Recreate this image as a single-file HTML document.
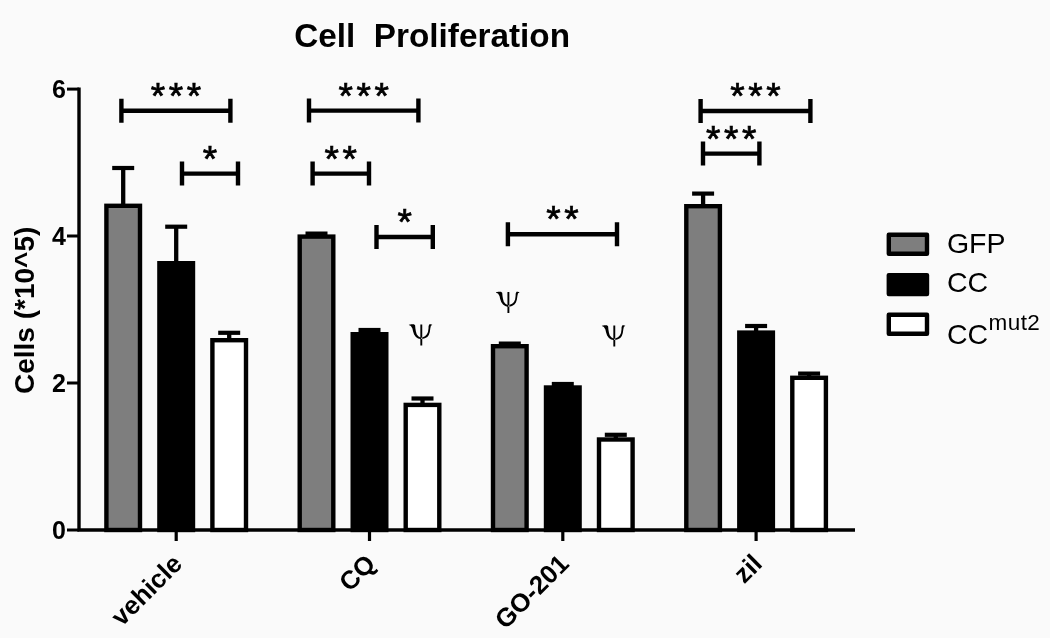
<!DOCTYPE html>
<html><head><meta charset="utf-8"><style>
html,body{margin:0;padding:0;background:#fafafa;}
svg{display:block;filter:grayscale(1)}
text{font-family:"Liberation Sans",sans-serif;fill:#000}
.b{font-weight:bold}
.r{font-weight:normal}
.ast{font-family:"Liberation Sans",sans-serif;font-weight:normal;font-size:37px;letter-spacing:3.6px;stroke:#000;stroke-width:0.7px}
</style></head><body>
<svg width="1050" height="638" viewBox="0 0 1050 638">
<rect width="1050" height="638" fill="#fafafa"/>
<line x1="123.2" y1="168.0" x2="123.2" y2="205.6" stroke="#000" stroke-width="4.3"/>
<line x1="112.2" y1="168.0" x2="134.2" y2="168.0" stroke="#000" stroke-width="4.2"/>
<rect x="106.4" y="205.8" width="33.6" height="324.2" fill="#7e7e7e" stroke="#000" stroke-width="4.4"/>
<line x1="176.2" y1="226.7" x2="176.2" y2="263.0" stroke="#000" stroke-width="4.3"/>
<line x1="165.2" y1="226.7" x2="187.2" y2="226.7" stroke="#000" stroke-width="4.2"/>
<rect x="159.4" y="263.2" width="33.6" height="266.8" fill="#000" stroke="#000" stroke-width="4.4"/>
<line x1="229.2" y1="332.8" x2="229.2" y2="340.0" stroke="#000" stroke-width="4.3"/>
<line x1="218.2" y1="332.8" x2="240.2" y2="332.8" stroke="#000" stroke-width="4.2"/>
<rect x="212.4" y="340.2" width="33.6" height="189.8" fill="#fff" stroke="#000" stroke-width="4.4"/>
<line x1="316.5" y1="233.6" x2="316.5" y2="236.4" stroke="#000" stroke-width="4.3"/>
<line x1="305.5" y1="233.6" x2="327.5" y2="233.6" stroke="#000" stroke-width="4.2"/>
<rect x="299.7" y="236.6" width="33.6" height="293.4" fill="#7e7e7e" stroke="#000" stroke-width="4.4"/>
<line x1="369.5" y1="330.0" x2="369.5" y2="334.0" stroke="#000" stroke-width="4.3"/>
<line x1="358.5" y1="330.0" x2="380.5" y2="330.0" stroke="#000" stroke-width="4.2"/>
<rect x="352.7" y="334.2" width="33.6" height="195.8" fill="#000" stroke="#000" stroke-width="4.4"/>
<line x1="422.5" y1="398.5" x2="422.5" y2="404.7" stroke="#000" stroke-width="4.3"/>
<line x1="411.5" y1="398.5" x2="433.5" y2="398.5" stroke="#000" stroke-width="4.2"/>
<rect x="405.7" y="404.9" width="33.6" height="125.1" fill="#fff" stroke="#000" stroke-width="4.4"/>
<line x1="509.8" y1="343.6" x2="509.8" y2="346.0" stroke="#000" stroke-width="4.3"/>
<line x1="498.8" y1="343.6" x2="520.8" y2="343.6" stroke="#000" stroke-width="4.2"/>
<rect x="493.0" y="346.2" width="33.6" height="183.8" fill="#7e7e7e" stroke="#000" stroke-width="4.4"/>
<line x1="562.8" y1="384.0" x2="562.8" y2="387.3" stroke="#000" stroke-width="4.3"/>
<line x1="551.8" y1="384.0" x2="573.8" y2="384.0" stroke="#000" stroke-width="4.2"/>
<rect x="546.0" y="387.5" width="33.6" height="142.5" fill="#000" stroke="#000" stroke-width="4.4"/>
<line x1="615.8" y1="434.8" x2="615.8" y2="439.3" stroke="#000" stroke-width="4.3"/>
<line x1="604.8" y1="434.8" x2="626.8" y2="434.8" stroke="#000" stroke-width="4.2"/>
<rect x="599.0" y="439.5" width="33.6" height="90.5" fill="#fff" stroke="#000" stroke-width="4.4"/>
<line x1="703.1" y1="193.6" x2="703.1" y2="206.0" stroke="#000" stroke-width="4.3"/>
<line x1="692.1" y1="193.6" x2="714.1" y2="193.6" stroke="#000" stroke-width="4.2"/>
<rect x="686.3" y="206.2" width="33.6" height="323.8" fill="#7e7e7e" stroke="#000" stroke-width="4.4"/>
<line x1="756.1" y1="326.0" x2="756.1" y2="332.4" stroke="#000" stroke-width="4.3"/>
<line x1="745.1" y1="326.0" x2="767.1" y2="326.0" stroke="#000" stroke-width="4.2"/>
<rect x="739.3" y="332.6" width="33.6" height="197.4" fill="#000" stroke="#000" stroke-width="4.4"/>
<line x1="809.1" y1="373.6" x2="809.1" y2="377.6" stroke="#000" stroke-width="4.3"/>
<line x1="798.1" y1="373.6" x2="820.1" y2="373.6" stroke="#000" stroke-width="4.2"/>
<rect x="792.3" y="377.8" width="33.6" height="152.2" fill="#fff" stroke="#000" stroke-width="4.4"/>
<line x1="67" y1="89.1" x2="79" y2="89.1" stroke="#000" stroke-width="3"/>
<path d="M79 87.6 V530 H855" fill="none" stroke="#000" stroke-width="3.4"/>
<line x1="67" y1="383.0" x2="79" y2="383.0" stroke="#000" stroke-width="3"/>
<line x1="67" y1="236.0" x2="79" y2="236.0" stroke="#000" stroke-width="3"/>
<line x1="67" y1="530" x2="79" y2="530" stroke="#000" stroke-width="3"/>
<line x1="176.2" y1="530" x2="176.2" y2="541" stroke="#000" stroke-width="3.2"/>
<line x1="369.5" y1="530" x2="369.5" y2="541" stroke="#000" stroke-width="3.2"/>
<line x1="562.8" y1="530" x2="562.8" y2="541" stroke="#000" stroke-width="3.2"/>
<line x1="756.1" y1="530" x2="756.1" y2="541" stroke="#000" stroke-width="3.2"/>
<text x="66" y="539.0" text-anchor="end" class="b" font-size="25">0</text>
<text x="66" y="392.0" text-anchor="end" class="b" font-size="25">2</text>
<text x="66" y="245.0" text-anchor="end" class="b" font-size="25">4</text>
<text x="66" y="98.0" text-anchor="end" class="b" font-size="25">6</text>
<path d="M121.4 98.7 V122.7 M121.4 110.7 H230.4 M230.4 98.7 V122.7" fill="none" stroke="#000" stroke-width="4.4"/>
<text x="177.7" y="107.7" text-anchor="middle" class="ast" dy="1">***</text>
<path d="M182.0 161.6 V185.6 M182.0 173.6 H238.0 M238.0 161.6 V185.6" fill="none" stroke="#000" stroke-width="4.4"/>
<text x="211.8" y="170.6" text-anchor="middle" class="ast" dy="1">*</text>
<path d="M309.0 98.6 V122.6 M309.0 110.6 H418.4 M418.4 98.6 V122.6" fill="none" stroke="#000" stroke-width="4.4"/>
<text x="365.5" y="107.6" text-anchor="middle" class="ast" dy="1">***</text>
<path d="M312.6 161.6 V185.6 M312.6 173.6 H369.0 M369.0 161.6 V185.6" fill="none" stroke="#000" stroke-width="4.4"/>
<text x="342.6" y="170.6" text-anchor="middle" class="ast" dy="1">**</text>
<path d="M376.5 225.0 V249.0 M376.5 237.0 H432.8 M432.8 225.0 V249.0" fill="none" stroke="#000" stroke-width="4.4"/>
<text x="406.4" y="234.0" text-anchor="middle" class="ast" dy="1">*</text>
<path d="M507.9 222.3 V246.3 M507.9 234.3 H617.0 M617.0 222.3 V246.3" fill="none" stroke="#000" stroke-width="4.4"/>
<text x="564.2" y="231.3" text-anchor="middle" class="ast" dy="1">**</text>
<path d="M700.6 99.0 V123.0 M700.6 111.0 H810.4 M810.4 99.0 V123.0" fill="none" stroke="#000" stroke-width="4.4"/>
<text x="757.3" y="108.0" text-anchor="middle" class="ast" dy="1">***</text>
<path d="M703.0 141.6 V165.6 M703.0 153.6 H759.4 M759.4 141.6 V165.6" fill="none" stroke="#000" stroke-width="4.4"/>
<text x="733.0" y="150.6" text-anchor="middle" class="ast" dy="1">***</text>
<path transform="translate(421.3,323.9)" d="M-12.40 0.80 L-10.00 0.30 L-7.40 0.35 L-6.20 1.35 L-5.90 4.50 L-5.40 7.50 L-4.60 10.30 L-3.00 12.30 L-0.90 13.60 L0.00 13.80 L0.00 15.20 L-0.90 15.20 L-3.20 14.50 L-5.40 13.00 L-7.20 10.50 L-8.20 7.50 L-8.90 4.50 L-10.40 2.00 L-12.40 1.20 Z M10.90 0.80 L9.50 0.30 L8.10 0.35 L7.30 2.00 L7.20 4.50 L6.70 8.00 L5.60 10.40 L3.70 12.30 L0.85 13.60 L0.00 13.80 L0.00 15.20 L0.85 15.20 L3.60 14.40 L6.00 13.00 L7.50 11.00 L8.50 8.00 L9.00 4.50 L9.60 1.75 L10.90 1.20 Z M-0.95 0.5 H0.95 V21.6 H-0.95 Z" fill="#000"/>
<path transform="translate(508.4,291.5)" d="M-12.40 0.80 L-10.00 0.30 L-7.40 0.35 L-6.20 1.35 L-5.90 4.50 L-5.40 7.50 L-4.60 10.30 L-3.00 12.30 L-0.90 13.60 L0.00 13.80 L0.00 15.20 L-0.90 15.20 L-3.20 14.50 L-5.40 13.00 L-7.20 10.50 L-8.20 7.50 L-8.90 4.50 L-10.40 2.00 L-12.40 1.20 Z M10.90 0.80 L9.50 0.30 L8.10 0.35 L7.30 2.00 L7.20 4.50 L6.70 8.00 L5.60 10.40 L3.70 12.30 L0.85 13.60 L0.00 13.80 L0.00 15.20 L0.85 15.20 L3.60 14.40 L6.00 13.00 L7.50 11.00 L8.50 8.00 L9.00 4.50 L9.60 1.75 L10.90 1.20 Z M-0.95 0.5 H0.95 V21.6 H-0.95 Z" fill="#000"/>
<path transform="translate(614.3,324.9)" d="M-12.40 0.80 L-10.00 0.30 L-7.40 0.35 L-6.20 1.35 L-5.90 4.50 L-5.40 7.50 L-4.60 10.30 L-3.00 12.30 L-0.90 13.60 L0.00 13.80 L0.00 15.20 L-0.90 15.20 L-3.20 14.50 L-5.40 13.00 L-7.20 10.50 L-8.20 7.50 L-8.90 4.50 L-10.40 2.00 L-12.40 1.20 Z M10.90 0.80 L9.50 0.30 L8.10 0.35 L7.30 2.00 L7.20 4.50 L6.70 8.00 L5.60 10.40 L3.70 12.30 L0.85 13.60 L0.00 13.80 L0.00 15.20 L0.85 15.20 L3.60 14.40 L6.00 13.00 L7.50 11.00 L8.50 8.00 L9.00 4.50 L9.60 1.75 L10.90 1.20 Z M-0.95 0.5 H0.95 V21.6 H-0.95 Z" fill="#000"/>
<text x="294.3" y="47" class="b" font-size="33.3">Cell&#160;&#160;Proliferation</text>
<text transform="translate(34,394) rotate(-90)" class="b" font-size="28">Cells (*10^5)</text>
<text transform="translate(183.7,565.3) rotate(-45)" text-anchor="end" class="b" font-size="25.8">vehicle</text>
<text transform="translate(377.0,565.3) rotate(-45)" text-anchor="end" class="b" font-size="25.8">CQ</text>
<text transform="translate(570.3,565.3) rotate(-45)" text-anchor="end" class="b" font-size="25.8">GO-201</text>
<text transform="translate(763.6,565.3) rotate(-45)" text-anchor="end" class="b" font-size="25.8">zil</text>
<rect x="888.8" y="234.7" width="38.2" height="19" fill="#7e7e7e" stroke="#000" stroke-width="4.4" stroke-linejoin="round"/>
<rect x="888.8" y="275.1" width="38.2" height="19" fill="#000" stroke="#000" stroke-width="4.4" stroke-linejoin="round"/>
<rect x="888.8" y="314.8" width="38.2" height="19" fill="#fff" stroke="#000" stroke-width="4.4" stroke-linejoin="round"/>
<text x="946.9" y="252.5" class="r" font-size="28.5">GFP</text>
<text x="946.9" y="292.3" class="r" font-size="28.5">CC</text>
<text x="946.9" y="344.2" class="r" font-size="28.5">CC</text>
<text x="988.6" y="330.3" class="r" font-size="22.5" letter-spacing="0.4">mut2</text>
</svg>
</body></html>
